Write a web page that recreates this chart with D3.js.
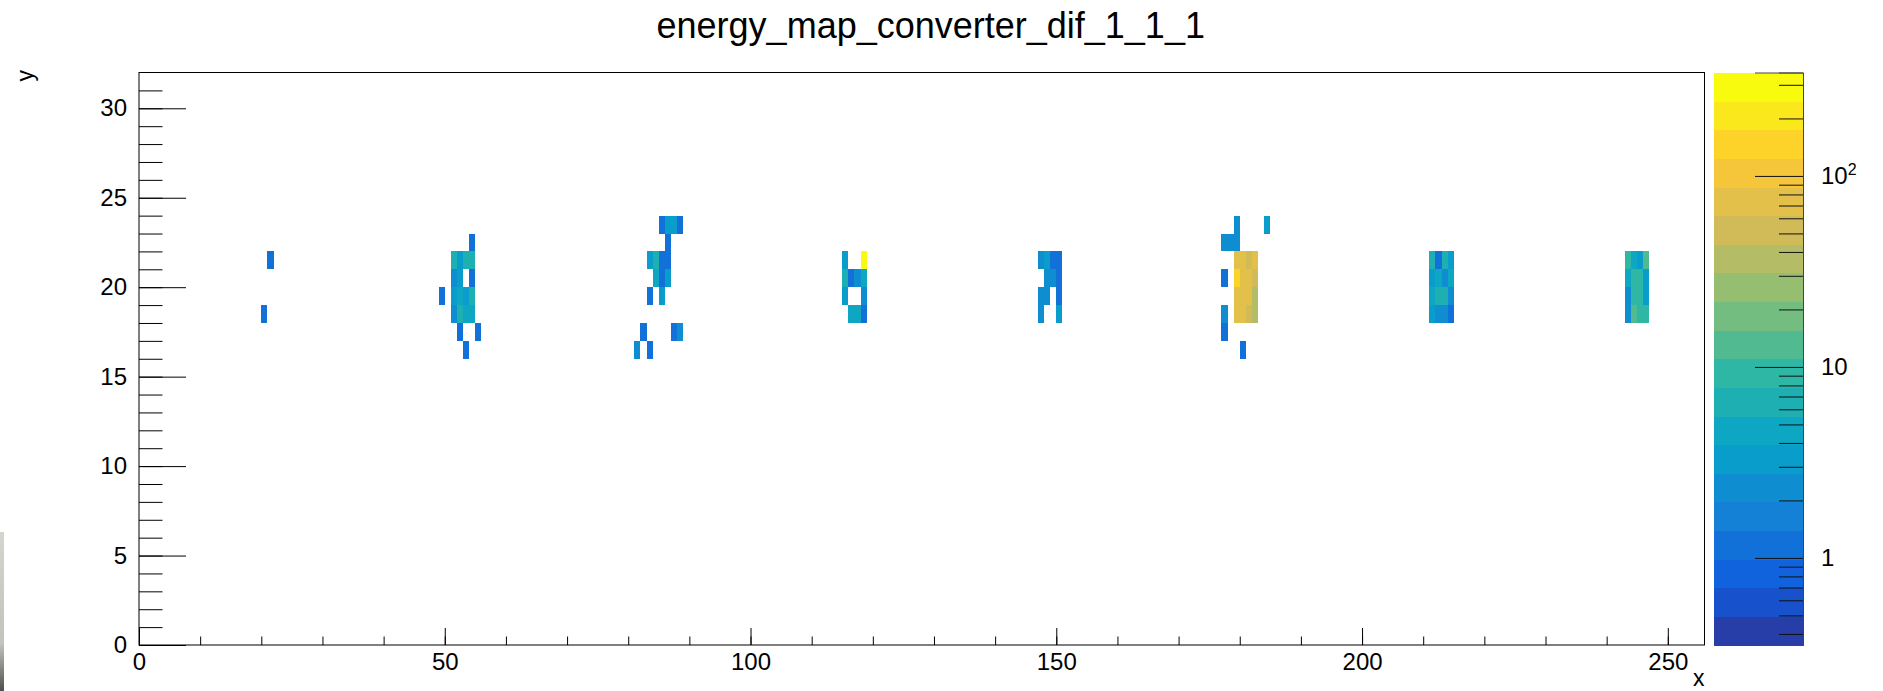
<!DOCTYPE html>
<html>
<head>
<meta charset="utf-8">
<script src="https://cdn.jsdelivr.net/npm/d3@7"></script>
<style>
  body { margin: 0; background: #fff; }
  text { font-family: "Liberation Sans", Arial, sans-serif; fill: #000; }
</style>
</head>
<body>
<div id="chart"></div>
<script>
// histogram setup
var title = "energy_map_converter_dif_1_1_1";
var xDomain = [0, 256];
var yDomain = [0, 32];
var zDomain = [0.35, 348];
var nContours = 20;

var xMajor = [0, 50, 100, 150, 200, 250];
var xMinor = d3.range(0, 257, 10);
var yMajor = [0, 5, 10, 15, 20, 25, 30];
var yMinor = d3.range(0, 32, 1);
var zMajor = [1, 10, 100];
var zMinor = [0.4, 0.5, 0.6, 0.7, 0.8, 0.9, 2, 3, 4, 5, 6, 7, 8, 9,
              20, 30, 40, 50, 60, 70, 80, 90, 200, 300];

// filled bins: [x bin, y bin, content]
var hits = [
  [21, 21, 1.2], [20, 18, 1.2],
  [49, 19, 1.2],
  [54, 22, 1.2],
  [51, 21, 6.6], [52, 21, 3.3], [53, 21, 6.6], [54, 21, 6.6],
  [51, 20, 2.3], [52, 20, 3.6], [54, 20, 1.2],
  [51, 19, 3.0], [52, 19, 4.7], [53, 19, 3.3], [54, 19, 6.6],
  [51, 18, 2.3], [52, 18, 6.6], [53, 18, 4.7], [54, 18, 4.7],
  [52, 17, 1.2], [55, 17, 1.2],
  [53, 16, 1.2],

  [85, 23, 1.2], [86, 23, 3.3], [87, 23, 3.3], [88, 23, 1.2],
  [86, 22, 1.2],
  [83, 21, 2.8], [84, 21, 6.6], [85, 21, 1.2], [86, 21, 1.2],
  [84, 20, 4.7], [85, 20, 1.2], [86, 20, 3.3],
  [83, 19, 1.2], [85, 19, 2.8],
  [82, 17, 1.2], [87, 17, 1.2], [88, 17, 2.5],
  [81, 16, 2.5], [83, 16, 1.2],

  [115, 21, 3.3], [118, 21, 290],
  [115, 20, 6.6], [116, 20, 1.2], [117, 20, 2.3], [118, 20, 4.7],
  [115, 19, 3.3], [118, 19, 2.5],
  [116, 18, 4.7], [117, 18, 4.0], [118, 18, 1.2],

  [147, 21, 2.5], [148, 21, 3.3], [149, 21, 1.2], [150, 21, 1.2],
  [148, 20, 2.3], [149, 20, 2.3], [150, 20, 1.2],
  [147, 19, 2.3], [148, 19, 2.3], [150, 19, 1.2],
  [147, 18, 2.3], [150, 18, 3.0],

  [179, 23, 2.5], [184, 23, 3.3],
  [177, 22, 2.5], [178, 22, 2.5], [179, 22, 2.5],
  [179, 21, 74], [180, 21, 74], [181, 21, 52], [182, 21, 80],
  [177, 20, 1.2], [179, 20, 148], [180, 20, 74], [181, 20, 74], [182, 20, 52],
  [179, 19, 74], [180, 19, 74], [181, 19, 74], [182, 19, 37],
  [177, 18, 2.5], [179, 18, 74], [180, 18, 74], [181, 18, 52], [182, 18, 37],
  [177, 17, 1.2],
  [180, 16, 1.2],

  [211, 21, 7.0], [212, 21, 1.2], [213, 21, 7.0], [214, 21, 3.6],
  [211, 20, 3.6], [212, 20, 4.5], [213, 20, 2.0], [214, 20, 4.0],
  [211, 19, 4.5], [212, 19, 7.5], [213, 19, 7.5], [214, 19, 2.3],
  [211, 18, 3.6], [212, 18, 2.3], [213, 18, 2.3], [214, 18, 1.3],

  [243, 21, 9.3], [244, 21, 4.7], [245, 21, 3.8], [246, 21, 13],
  [243, 20, 4.7], [244, 20, 9.3], [245, 20, 9.3], [246, 20, 3.8],
  [243, 19, 2.3], [244, 19, 9.3], [245, 19, 9.3], [246, 19, 3.8],
  [243, 18, 2.3], [244, 18, 13], [245, 18, 9.3], [246, 18, 9.3]
];

// ROOT kBird palette
var birdStops = [0.0, 0.125, 0.25, 0.375, 0.5, 0.625, 0.75, 0.875, 1.0];
var birdRed   = [0.2082, 0.0592, 0.0780, 0.0232, 0.1802, 0.5301, 0.8186, 0.9956, 0.9764];
var birdGreen = [0.1664, 0.3599, 0.5041, 0.6419, 0.7178, 0.7492, 0.7328, 0.7862, 0.9832];
var birdBlue  = [0.5293, 0.8684, 0.8385, 0.7914, 0.6425, 0.4662, 0.3499, 0.1968, 0.0539];

var W = 1883, H = 691;
var margin = { left: 139, right: 178.5, top: 72.5, bottom: 46 };
var plotW = W - margin.left - margin.right;
var plotH = H - margin.top - margin.bottom;
var labelFont = "24px";

var svg = d3.select("#chart").append("svg")
  .attr("width", W)
  .attr("height", H);

// grey strip at the bottom left edge of the screenshot
var grad = svg.append("defs").append("linearGradient")
  .attr("id", "strip").attr("x1", 0).attr("x2", 0).attr("y1", 0).attr("y2", 1);
grad.append("stop").attr("offset", "0%").attr("stop-color", "#d6d4cf");
grad.append("stop").attr("offset", "70%").attr("stop-color", "#c4c2bd");
grad.append("stop").attr("offset", "85%").attr("stop-color", "#8a8a86");
grad.append("stop").attr("offset", "100%").attr("stop-color", "#4e4e4c");
svg.append("rect")
  .attr("x", 0).attr("y", 532).attr("width", 4).attr("height", H - 532)
  .attr("fill", "url(#strip)");

var x = d3.scaleLinear().domain(xDomain).range([0, plotW]);
var y = d3.scaleLinear().domain(yDomain).range([plotH, 0]);

// palette: 255 colours, then one colour per contour band
var paletteScale = d3.scaleLinear()
  .domain(birdStops)
  .range(birdStops.map(function(s, i) {
    return d3.rgb(birdRed[i] * 255, birdGreen[i] * 255, birdBlue[i] * 255);
  }))
  .interpolate(d3.interpolateRgb);
var nColors = 255;
var bandColors = d3.range(nContours).map(function(i) {
  var idx = Math.floor((i + 0.99) * nColors / nContours);
  return paletteScale(Math.min(idx, nColors - 1) / (nColors - 1));
});

var logMin = Math.log10(zDomain[0]), logMax = Math.log10(zDomain[1]);
function bandOf(z) {
  var b = Math.floor(0.01 + (Math.log10(z) - logMin) * nContours / (logMax - logMin));
  return Math.max(0, Math.min(nContours - 1, b));
}

var g = svg.append("g")
  .attr("transform", "translate(" + margin.left + "," + margin.top + ")");

// bins
g.append("g").selectAll("rect")
  .data(hits)
  .enter().append("rect")
  .attr("x", function(d) { return x(d[0]); })
  .attr("y", function(d) { return y(d[1] + 1); })
  .attr("width", function(d) { return x(d[0] + 1) - x(d[0]); })
  .attr("height", function(d) { return y(d[1]) - y(d[1] + 1); })
  .attr("fill", function(d) { return bandColors[bandOf(d[2])]; })
  .attr("shape-rendering", "crispEdges");

// x axis, ticks pointing into the frame
g.append("g").attr("transform", "translate(0," + plotH + ")")
  .call(d3.axisBottom(x).tickValues(xMinor).tickSize(-8.5).tickFormat(""));
g.append("g").attr("transform", "translate(0," + plotH + ")")
  .call(d3.axisBottom(x).tickValues(xMajor).tickSize(-17).tickPadding(8));

// y axis
g.append("g")
  .call(d3.axisLeft(y).tickValues(yMinor).tickSize(-23.5).tickFormat(""));
g.append("g")
  .call(d3.axisLeft(y).tickValues(yMajor).tickSize(-47).tickPadding(12));

g.selectAll(".domain").remove();
g.selectAll(".tick line").attr("stroke", "#000").attr("stroke-width", 1);
g.selectAll(".tick text")
  .style("font-family", "'Liberation Sans', Arial, sans-serif")
  .style("font-size", labelFont)
  .attr("fill", "#000");

// frame
g.append("rect")
  .attr("x", 0).attr("y", 0)
  .attr("width", plotW).attr("height", plotH)
  .attr("fill", "none")
  .attr("stroke", "#000")
  .attr("stroke-width", 1);

// colour bar
var barX = 1714, barW = 89;
var z = d3.scaleLog().domain(zDomain).range([margin.top + plotH, margin.top]);
var bandH = plotH / nContours;
svg.append("g").selectAll("rect")
  .data(bandColors)
  .enter().append("rect")
  .attr("x", barX)
  .attr("y", function(d, i) { return margin.top + plotH - (i + 1) * bandH; })
  .attr("width", barW)
  .attr("height", bandH + 0.5)
  .attr("fill", function(d) { return d; })
  .attr("shape-rendering", "crispEdges");

var zAxisX = "translate(" + (barX + barW) + ",0)";
svg.append("g").attr("class", "zaxis").attr("transform", zAxisX)
  .call(d3.axisRight(z).tickValues(zMinor).tickSize(-24).tickFormat(""));
var zMajorG = svg.append("g").attr("class", "zaxis").attr("transform", zAxisX)
  .call(d3.axisRight(z).tickValues(zMajor).tickSize(-48).tickPadding(18)
    .tickFormat(function(d) { return d === 100 ? "10" : String(d); }));
svg.selectAll(".zaxis .domain").attr("stroke", "#444");
svg.selectAll(".zaxis .tick line").attr("stroke", "#111");
zMajorG.selectAll(".tick text")
  .style("font-family", "'Liberation Sans', Arial, sans-serif")
  .style("font-size", labelFont)
  .attr("fill", "#000")
  .attr("text-anchor", "start");
zMajorG.selectAll(".tick text")
  .filter(function(d) { return d === 100; })
  .append("tspan")
  .attr("dy", "-0.55em")
  .style("font-size", "16px")
  .text("2");

// titles
svg.append("text")
  .attr("x", margin.left + plotW / 2 + 9)
  .attr("y", 38)
  .attr("text-anchor", "middle")
  .style("font-size", "36px")
  .text(title);

svg.append("text")
  .attr("x", margin.left + plotW)
  .attr("y", 686)
  .attr("text-anchor", "end")
  .style("font-size", "23px")
  .text("x");

svg.append("text")
  .attr("transform", "translate(33,70) rotate(-90)")
  .attr("text-anchor", "end")
  .style("font-size", "23px")
  .text("y");
</script>
</body>
</html>
